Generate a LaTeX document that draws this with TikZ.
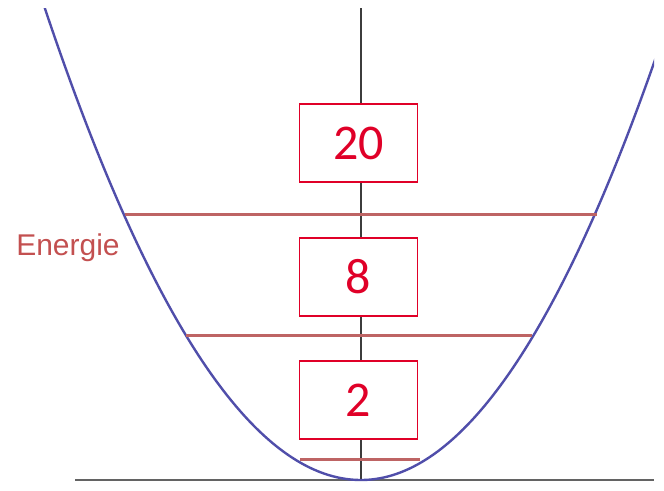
\documentclass[tikz,border=0pt]{standalone}
\usepackage{fontspec}
\setmainfont{Carlito}
\newfontfamily\labelfont{Liberation Sans}
\definecolor{curveblue}{RGB}{80,78,170}
\definecolor{levelred}{RGB}{190,100,100}
\definecolor{boxred}{RGB}{224,0,40}
\definecolor{axisgray}{RGB}{60,60,60}
\definecolor{lblred}{RGB}{195,80,80}
\tikzset{
  axisline/.style={draw=axisgray, line width=2pt},
  curve/.style={draw=curveblue, line width=2.4pt},
  level/.style={draw=levelred, line width=3pt},
  valbox/.style={draw=boxred, line width=1.8pt, fill=white, minimum width=118pt, minimum height=78pt, inner sep=0pt, text=boxred, font=\fontsize{50}{54}\selectfont},
}
\begin{document}
\begin{tikzpicture}[x=1pt,y=-1pt]
\useasboundingbox (0,0) rectangle (664,490);
% axes
\coordinate (ytop) at (361,8);
\coordinate (ybot) at (361,480);
\coordinate (xl) at (75,480);
\coordinate (xr) at (654,480);
\draw[axisline] (ytop) -- (ybot);
\draw[axisgray!80, line width=2.4pt] (xl) -- (xr);
% parabola
\begin{scope}
\clip (0,8) rectangle (654,490);
\draw[curve, domain=-3.18:0, samples=80, smooth] plot ({361+100*\x},{480-47.2*\x*\x});
\draw[curve, domain=0:3.0, samples=80, smooth] plot ({361+100*\x},{480-48.6*\x*\x});
\end{scope}
% energy levels
\coordinate (a1) at (125,214); \coordinate (a2) at (597,214);
\coordinate (b1) at (186,335); \coordinate (b2) at (532,335);
\coordinate (c1) at (300,459); \coordinate (c2) at (420,459);
\draw[level] (a1) -- (a2);
\draw[level] (b1) -- (b2);
\draw[level] (c1) -- (c2);
% label
\node[text=lblred, font=\labelfont\fontsize{30}{32}\selectfont, inner sep=0pt] (lbl) at (68,248) {Energie};
% boxes
\node[valbox] (v20) at (358.5,143) {20};
\node[valbox] (v8) at (358.5,277) {8};
\node[valbox] (v2) at (358.5,400) {2};
\end{tikzpicture}
\end{document}
